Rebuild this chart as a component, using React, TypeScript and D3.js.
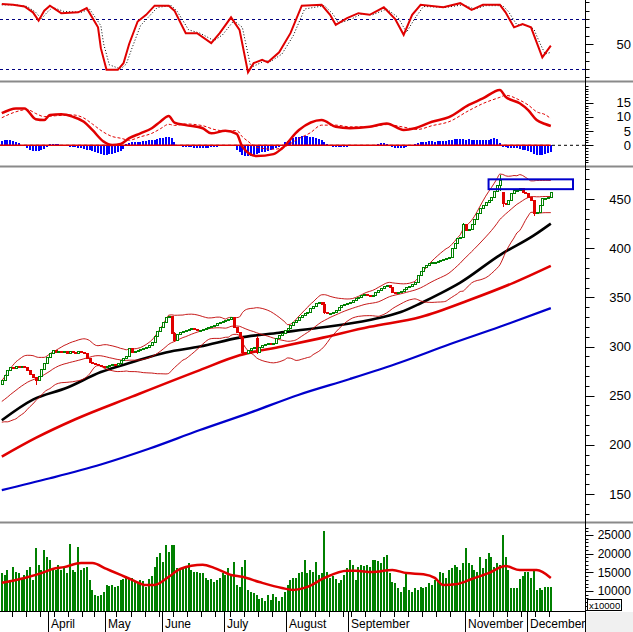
import React from 'react';
import * as d3 from 'd3';

const W = 633;
const H = 632;

// ---------- calendar ----------
const START_DATE = '2021-03-09';
const END_DATE = '2021-12-13';
const HOLIDAYS = ['2021-04-21', '2021-04-30', '2021-05-03', '2021-09-02', '2021-09-03'];
const MONTH_NAMES = ['January', 'February', 'March', 'April', 'May', 'June', 'July', 'August', 'September', 'October', 'November', 'December'];

// ---------- price data ----------
const priorCloses = [228, 231, 229, 233, 236, 234, 238, 241, 239, 243, 246, 244, 248, 251, 249, 254, 257, 255, 260];
const closes = [
  266, 271, 276, 279, 278, 280, 279, 280, 279, 276,
  272, 269, 266, 270, 277, 283, 289, 293, 296, 294,
  295, 294, 295, 293, 295, 294, 293, 295, 294, 293,
  288, 284, 283, 282, 281, 280, 279, 280, 281, 282,
  281, 283, 286, 288, 290, 298, 294, 295, 296, 297,
  298, 299, 302, 305, 311, 316, 320, 325, 330, 331,
  314, 307, 313, 315, 316, 317, 318, 319, 318, 317,
  317, 318, 319, 320, 321, 322, 324, 325, 326, 327,
  328, 330, 320, 315, 310, 294, 293, 296, 298, 300,
  294, 299, 302, 303, 304, 303, 304, 309, 312, 314,
  317, 319, 322, 325, 327, 330, 332, 334, 335, 339,
  341, 344, 345, 343, 335, 334, 334, 335, 337, 340,
  342, 343, 344, 345, 347, 349, 350, 352, 353, 352,
  351, 352, 355, 357, 359, 362, 363, 361, 355, 354,
  355, 356, 358, 361, 362, 364, 366, 373, 377, 381,
  383, 385, 386, 386, 387, 388, 389, 390, 391, 400,
  405, 410, 411, 425, 418, 419, 425, 430, 436, 441,
  444, 447, 449, 452, 458, 464, 469, 446, 445, 449,
  456, 459, 459, 461, 457, 456, 452, 449, 436, 437,
  444, 451, 451, 452, 457,
];
const openOverrides: [number, number][] = [[0, 262], [90, 309], [177, 457]];
const wickExtremes: [number, number, number][] = [
  [12, 268, 261], [61, 315, 305], [85, 311, 291], [90, 311, 292], [114, 345, 333],
  [163, 426, 410], [176, 474, 458], [177, 457, 442], [188, 449, 433],
];
const ma50: [number, number][] = [[0, 225], [11, 246], [23, 258], [35, 274], [46, 284], [58, 294], [70, 300], [84, 309], [98, 314], [112, 319], [130, 327], [141, 335], [148, 344], [155, 354], [162, 365], [176, 393], [188, 413], [194, 425]];
const ma100: [number, number][] = [[0, 188], [12, 207], [26, 226], [46, 249], [70, 276], [84, 291], [99, 300], [112, 308], [130, 320], [148, 330], [165, 347], [181, 365], [194, 382]];
const ma200: [number, number][] = [[0, 154], [17, 166], [35, 180], [52, 196], [70, 215], [88, 233], [105, 251], [123, 267], [141, 284], [158, 302], [176, 320], [194, 339]];
const resistanceZone = { from: 172, to: 202, low: 460, high: 470 };
const priceTicks = [150, 200, 250, 300, 350, 400, 450];

// ---------- volume ----------
const volumes = [
  14750, 14300, 15600, 13000, 16500, 15200, 14750, 13400, 14300, 15600,
  16500, 13000, 21500, 17000, 15600, 21000, 19200, 18300, 16100, 15600,
  17000, 15600, 16100, 14750, 22700, 15600, 15200, 21800, 15600, 16100,
  16500, 12900, 10300, 8900, 8700, 8900, 9800, 11700, 11400, 11700,
  11200, 11400, 13000, 13200, 13900, 13400, 13600, 12500, 12200, 13000,
  12800, 11200, 13200, 14100, 16500, 19000, 20100, 17900, 22300, 20500,
  22300, 22300, 16100, 15600, 15800, 16500, 17400, 15600, 15200, 15000,
  14750, 14900, 13400, 12900, 13100, 12500, 12900, 13400, 14750, 14300,
  16100, 13900, 17900, 11700, 11200, 16500, 18300, 10300, 9800, 9400,
  8900, 7800, 8000, 7200, 8900, 7600, 9200, 8500, 7200, 8500,
  9800, 11600, 12900, 13400, 13600, 14700, 15200, 18300, 14900, 15600,
  15200, 17900, 14300, 14700, 26200, 15200, 13400, 13900, 13100, 12200,
  13000, 14300, 16100, 18300, 17000, 13000, 16500, 17000, 16700, 17000,
  16500, 18300, 18300, 18100, 17400, 19200, 19700, 14750, 12500, 12100,
  10700, 9800, 11200, 14750, 10300, 9800, 10700, 10300, 11200, 10700,
  11200, 12100, 11700, 12900, 12500, 15200, 14700, 13400, 15600, 16100,
  17000, 16500, 15600, 17400, 21400, 17400, 17000, 15600, 15200, 19200,
  16100, 18700, 20100, 19200, 16500, 17400, 17000, 25000, 19200, 15600,
  10700, 10700, 10700, 13100, 13900, 15200, 15200, 13400, 15600, 10300,
  10700, 10300, 11200, 11200, 11000,
];
const volumeMA: [number, number][] = [[0, 12200], [8, 13500], [14, 14800], [18, 15900], [22, 16400], [28, 17500], [32, 17500], [37, 15900], [42, 14300], [46, 13000], [51, 11600], [54, 11600], [59, 13800], [63, 15900], [71, 17000], [75, 16200], [81, 14300], [85, 13800], [91, 12400], [99, 10800], [103, 10300], [108, 11100], [114, 13500], [122, 15400], [125, 15400], [131, 15100], [138, 15600], [143, 14800], [149, 14500], [153, 13500], [156, 11600], [161, 11900], [166, 13200], [172, 14800], [178, 16700], [183, 15600], [189, 15600], [194, 13500]];
const volumeTicks = [10000, 15000, 20000, 25000];

// ---------- stochastic ----------
const stochK: [number, number][] = [[0, 98], [4, 97], [8, 95], [11, 88], [13, 78], [15, 90], [17, 96], [21, 87], [27, 88], [30, 93], [34, 70], [35, 45], [37, 19], [41, 19], [43, 27], [45, 50], [48, 77], [51, 85], [54, 96], [59, 96], [61, 90], [65, 63], [69, 63], [74, 51], [77, 63], [81, 82], [84, 67], [85, 50], [87, 16], [89, 27], [92, 31], [94, 28], [98, 40], [102, 63], [106, 96], [113, 97], [116, 85], [118, 73], [122, 81], [126, 87], [130, 85], [135, 94], [139, 80], [142, 61], [145, 85], [148, 97], [156, 94], [162, 99], [166, 91], [170, 97], [176, 97], [178, 88], [181, 70], [184, 74], [187, 70], [189, 52], [191, 34], [194, 48]];
const stochD: [number, number][] = [[0, 97], [5, 97], [9, 95], [12, 88], [14, 80], [16, 88], [18, 94], [22, 89], [28, 88], [31, 92], [35, 72], [36, 50], [38, 25], [42, 20], [44, 26], [46, 45], [49, 72], [52, 83], [55, 94], [60, 96], [62, 89], [66, 67], [70, 63], [75, 54], [78, 61], [82, 78], [85, 70], [86, 54], [88, 22], [90, 25], [93, 30], [95, 29], [99, 38], [103, 60], [107, 92], [114, 96], [117, 86], [119, 75], [123, 79], [127, 86], [131, 85], [136, 92], [140, 82], [143, 64], [146, 81], [149, 95], [157, 94], [163, 97], [167, 92], [171, 96], [177, 96], [179, 89], [182, 73], [185, 73], [188, 68], [190, 52], [192, 38], [194, 40]];
const stochLevels = [20, 80];
const stochTicks = [50];

// ---------- MACD ----------
const macdLine: [number, number][] = [[0, 11.3], [5, 13.0], [8, 13.0], [12, 9.2], [15, 8.9], [17, 10.7], [21, 10.9], [25, 10.1], [29, 8.3], [32, 5.4], [36, 1.3], [39, 0.1], [42, 0.5], [45, 2.5], [49, 4.2], [53, 6.0], [56, 8.3], [59, 10.3], [61, 8.0], [65, 7.1], [71, 6.0], [74, 4.2], [79, 5.1], [83, 4.0], [85, -0.5], [90, -3.8], [96, -3.1], [99, -1.1], [105, 5.4], [113, 8.9], [118, 6.5], [123, 6.0], [130, 6.5], [136, 7.7], [142, 5.4], [146, 6.0], [152, 8.3], [158, 9.9], [165, 14.2], [170, 16.5], [176, 19.5], [178, 17.1], [183, 14.8], [186, 12.4], [189, 8.9], [192, 7.5], [194, 6.8]];
const macdSignal: [number, number][] = [[0, 9.7], [5, 11.8], [9, 12.6], [12, 11.2], [15, 10.1], [19, 10.4], [25, 10.7], [29, 9.6], [32, 7.5], [36, 4.6], [39, 3.1], [42, 2.5], [45, 1.8], [49, 3.0], [53, 4.2], [56, 5.8], [59, 7.4], [61, 7.0], [65, 7.5], [71, 6.9], [75, 5.6], [80, 5.0], [83, 5.2], [85, 3.0], [87, 1.4], [90, -0.7], [96, -1.4], [99, -0.9], [105, 2.4], [109, 4.4], [113, 7.1], [118, 7.1], [123, 6.5], [130, 6.5], [136, 7.3], [142, 6.4], [147, 5.6], [152, 6.9], [158, 8.3], [165, 12.2], [170, 14.7], [176, 16.9], [178, 17.6], [183, 15.9], [186, 14.2], [189, 11.8], [192, 10.8], [194, 9.4]];
const macdHist = [
  1.6, 2.0, 2.0, 1.9, 1.6, 1.2, 0.8,
  0.2, -0.3,
  -0.9, -1.5, -2.0, -2.1, -2.0, -1.7, -1.2, -0.6,
  0.3, 0.5, 0.5, 0.4, 0.2,
  -0.3, -0.4, -0.5, -0.6, -0.7, -0.9, -1.1, -1.3, -1.5, -1.8, -2.1,
  -2.4, -2.7, -3.0, -3.3, -3.3, -3.2, -3.0, -2.8, -2.5, -2.0, -1.4,
  0.6, 0.8, 1.0, 1.1, 1.2, 1.3, 1.4, 1.5, 1.7, 1.8, 2.0, 2.2, 2.5, 2.7, 2.9, 2.9, 2.5, 1.0,
  -0.3, -0.4, -0.5, -0.6, -0.6, -0.7, -0.8, -0.8, -0.8, -0.9, -0.9, -0.8, -0.7, -0.6, -0.5, -0.4, -0.3, -0.2,
  0.1, 0.0, -0.3,
  -1.5, -2.5, -3.5, -3.9, -3.9, -3.7, -3.4, -3.1, -2.8, -2.5, -2.2, -2.0, -1.7, -1.4, -1.0, -0.6, -0.2,
  1.0, 1.5, 2.0, 2.4, 2.8, 3.0, 3.1, 3.2, 3.1, 3.0, 2.8, 2.6, 2.2, 1.8, 1.2, 0.5,
  -0.4, -0.5, -0.6, -0.7, -0.7, -0.6, -0.5, -0.4, -0.3, -0.2,
  0.1, 0.0, -0.1, 0.1, 0.0, 0.1, 0.2,
  0.5, 0.8, 0.7, 0.4,
  -0.3, -0.6, -0.9, -1.0, -1.0, -0.9, -0.7, -0.4, -0.1,
  0.4, 0.7, 1.0, 1.1, 1.3, 1.4, 1.4, 1.3, 1.4, 1.5, 1.4, 1.6, 1.8, 2.0, 2.1, 2.2, 2.2, 2.1, 2.0, 2.1, 2.0, 1.9, 1.8, 1.8, 1.7, 1.8, 1.9, 2.2, 2.6, 2.3, 0.8,
  -0.5, -0.7, -0.8, -0.9, -1.0, -1.1, -1.3, -1.5, -1.8, -2.1, -2.5, -2.9, -3.3, -3.4, -3.3, -3.0, -2.7, -2.2,
];
const macdTicks = [0, 5, 10, 15];

// ---------- styling ----------
const FONT = 'Liberation Sans, Arial, sans-serif';
const RED = '#e00000';
const GREEN = '#008000';
const BLUE = '#0000cc';
const AXIS_X = 585.5;
const LABEL_X = 631;

function tradingDays(): Date[] {
  const out: Date[] = [];
  const hol = new Set(HOLIDAYS);
  const d = new Date(START_DATE + 'T00:00:00Z');
  const end = new Date(END_DATE + 'T00:00:00Z');
  while (d <= end) {
    const wd = d.getUTCDay();
    const iso = d.toISOString().slice(0, 10);
    if (wd !== 0 && wd !== 6 && !hol.has(iso)) out.push(new Date(d.getTime()));
    d.setUTCDate(d.getUTCDate() + 1);
  }
  return out;
}

function weekKey(d: Date) {
  return d.getTime() - ((d.getUTCDay() + 6) % 7) * 86400000;
}

export default function App() {
  const days = tradingDays();
  const N = closes.length;
  const STEP = 2.83;
  const X0 = 1.8;
  const x = d3.scaleLinear().domain([0, N - 1]).range([X0, X0 + (N - 1) * STEP]);

  const yStoch = d3.scaleLinear().domain([20, 80]).range([69, 19]);
  const yMacd = d3.scaleLinear().domain([0, 15]).range([145.3, 102.7]);
  const yPrice = d3.scaleLinear().domain([150, 450]).range([494, 199]);
  const yVol = d3.scaleLinear().domain([10000, 25000]).range([591, 535]);
  const VOL_BASE = 611;

  const panels = {
    stoch: [0, 80],
    macd: [83, 165],
    price: [168, 521],
    vol: [524, 611],
  } as const;

  const opens = closes.map((c, i) => {
    const o = openOverrides.find((g) => g[0] === i);
    if (o) return o[1];
    return i === 0 ? c : closes[i - 1];
  });
  const candles = closes.map((c, i) => {
    const o = opens[i];
    const w = wickExtremes.find((e) => e[0] === i);
    const hi = w ? w[1] : Math.max(o, c);
    const lo = w ? w[2] : Math.min(o, c);
    return { i, o, c, hi, lo, up: c >= o };
  });

  // Bollinger (20, 2) from closes
  const all = [...priorCloses, ...closes];
  const P = priorCloses.length;
  const bb = closes.map((_, i) => {
    const win = all.slice(i + P - 19, i + P + 1);
    const m = d3.mean(win) as number;
    const sd = Math.sqrt(d3.mean(win.map((v) => (v - m) * (v - m))) as number);
    return { i, mid: m, up: m + 2 * sd, lo: m - 2 * sd };
  });

  const sparse = (ys: d3.ScaleLinear<number, number>, curve = d3.curveMonotoneX) =>
    d3.line<[number, number]>().x((d) => x(d[0])).y((d) => ys(d[1])).curve(curve);
  const bbLine = (k: 'mid' | 'up' | 'lo') =>
    d3.line<{ i: number; mid: number; up: number; lo: number }>().x((d) => x(d.i)).y((d) => yPrice(d[k])).curve(d3.curveMonotoneX)(bb) as string;

  // x-axis ticks
  const monthMarks: { x: number; label: string }[] = [];
  const weekMarks: number[] = [];
  for (let i = 1; i < days.length && i < N; i++) {
    const bx = x(i) - STEP / 2;
    if (days[i].getUTCMonth() !== days[i - 1].getUTCMonth()) {
      monthMarks.push({ x: bx, label: MONTH_NAMES[days[i].getUTCMonth()] });
    } else if (weekKey(days[i]) !== weekKey(days[i - 1])) {
      weekMarks.push(bx);
    }
  }
  const shownMonths: { x: number; label: string }[] = [];
  let lastEnd = -Infinity;
  monthMarks.forEach((m) => {
    const w = m.label.length * 6.6;
    if (m.x + 2 > lastEnd + 2) {
      shownMonths.push(m);
      lastEnd = m.x + 2 + w;
    }
  });

  const minorTicks = (scale: d3.ScaleLinear<number, number>, from: number, to: number, step: number, range: readonly [number, number]) =>
    d3.range(from, to + step / 2, step).map((v) => scale(v)).filter((yy) => yy >= range[0] + 1 && yy <= range[1] - 1);

  const crisp = { shapeRendering: 'crispEdges' as const };

  return (
    <svg width={W} height={H} style={{ position: 'absolute', left: 0, top: 0, background: '#fff' }} fontFamily={FONT}>
      <defs>
        {Object.entries(panels).map(([k, r]) => (
          <clipPath id={`clip-${k}`} key={k}>
            <rect x={0} y={r[0]} width={AXIS_X} height={r[1] - r[0]} />
          </clipPath>
        ))}
      </defs>
      <rect x={0} y={0} width={W} height={H} fill="#fff" />
      <rect x={586} y={612} width={W - 586} height={H - 612} fill="#f0f0f0" />

      {[81.5, 166.5, 522.5].map((yy) => (
        <line key={yy} x1={0} x2={W} y1={yy} y2={yy} stroke="#8a8a8a" strokeWidth={2} />
      ))}

      {/* ===== Stochastic ===== */}
      <g clipPath="url(#clip-stoch)">
        {stochLevels.map((lv) => (
          <line key={lv} x1={0} x2={AXIS_X} y1={Math.round(yStoch(lv)) + 0.5} y2={Math.round(yStoch(lv)) + 0.5} stroke="#000080" strokeDasharray="3,3" />
        ))}
        <path d={sparse(yStoch, d3.curveLinear)(stochD) as string} fill="none" stroke="#000" strokeWidth={1} strokeDasharray="1,2" />
        <path d={sparse(yStoch, d3.curveLinear)(stochK) as string} fill="none" stroke={RED} strokeWidth={2} />
      </g>

      {/* ===== MACD ===== */}
      <g clipPath="url(#clip-macd)">
        <line x1={0} x2={AXIS_X} y1={yMacd(0)} y2={yMacd(0)} stroke="#000" strokeDasharray="3,3" />
        {macdHist.map((h, i) => {
          const y0 = yMacd(0);
          const y1 = yMacd(h);
          return (
            <rect key={i} x={Math.round(x(i)) - 1} y={Math.min(y0, y1)} width={2} height={Math.max(0.5, Math.abs(y1 - y0))} fill="#0000ff" {...crisp} />
          );
        })}
        <line x1={0} x2={x(N - 1)} y1={yMacd(0)} y2={yMacd(0)} stroke={RED} strokeWidth={1.5} />
        <path d={sparse(yMacd)(macdSignal) as string} fill="none" stroke={RED} strokeWidth={1} strokeDasharray="3,2" />
        <path d={sparse(yMacd)(macdLine) as string} fill="none" stroke={RED} strokeWidth={2.5} />
      </g>

      {/* ===== Price ===== */}
      <g clipPath="url(#clip-price)">
        <path d={sparse(yPrice)(ma200) as string} fill="none" stroke={BLUE} strokeWidth={2.2} />
        <path d={sparse(yPrice)(ma100) as string} fill="none" stroke={RED} strokeWidth={2.6} />
        <path d={sparse(yPrice)(ma50) as string} fill="none" stroke="#000" strokeWidth={2.6} />
        <path d={bbLine('up')} fill="none" stroke="#c00000" strokeWidth={0.9} />
        <path d={bbLine('mid')} fill="none" stroke="#c00000" strokeWidth={0.9} />
        <path d={bbLine('lo')} fill="none" stroke="#c00000" strokeWidth={0.9} />
        {candles.map((c) => {
          const left = Math.round(x(c.i)) - 1;
          const top = Math.round(yPrice(Math.max(c.o, c.c)));
          const bot = Math.round(yPrice(Math.min(c.o, c.c)));
          const col = c.up ? GREEN : RED;
          return (
            <g key={c.i} {...crisp}>
              <line x1={left + 1.5} x2={left + 1.5} y1={yPrice(c.hi)} y2={yPrice(c.lo)} stroke={col} strokeWidth={1} />
              {c.up ? (
                <rect x={left + 0.5} y={top + 0.5} width={2} height={Math.max(1, bot - top)} fill="#fff" stroke={col} strokeWidth={1} />
              ) : (
                <rect x={left} y={top} width={3} height={Math.max(1, bot - top + 1)} fill={col} />
              )}
            </g>
          );
        })}
        <rect
          x={x(resistanceZone.from)}
          y={yPrice(resistanceZone.high)}
          width={Math.min(x(resistanceZone.to), 573) - x(resistanceZone.from)}
          height={yPrice(resistanceZone.low) - yPrice(resistanceZone.high)}
          fill="none"
          stroke={BLUE}
          strokeWidth={2}
        />
      </g>

      {/* ===== Volume ===== */}
      <g clipPath="url(#clip-vol)">
        {volumes.map((v, i) => (
          <rect key={i} x={Math.round(x(i)) - 1} y={yVol(v)} width={2} height={VOL_BASE - yVol(v)} fill={GREEN} {...crisp} />
        ))}
        <path d={sparse(yVol)(volumeMA) as string} fill="none" stroke={RED} strokeWidth={2.5} />
      </g>

      {/* ===== right axis ===== */}
      <line x1={AXIS_X} x2={AXIS_X} y1={0} y2={632} stroke="#000" />
      {minorTicks(yStoch, 0, 100, 10, panels.stoch).map((yy, k) => (
        <line key={'st' + k} x1={AXIS_X} x2={AXIS_X + 4} y1={Math.round(yy) + 0.5} y2={Math.round(yy) + 0.5} stroke="#000" />
      ))}
      {stochTicks.map((t) => (
        <g key={'stt' + t}>
          <line x1={AXIS_X} x2={AXIS_X + 8} y1={Math.round(yStoch(t)) + 0.5} y2={Math.round(yStoch(t)) + 0.5} stroke="#000" />
          <text x={LABEL_X} y={yStoch(t)} dy="0.35em" textAnchor="end" fontSize={13}>{t}</text>
        </g>
      ))}
      {minorTicks(yMacd, -8, 22, 1, panels.macd).map((yy, k) => (
        <line key={'mt' + k} x1={AXIS_X} x2={AXIS_X + 3} y1={Math.round(yy) + 0.5} y2={Math.round(yy) + 0.5} stroke="#000" />
      ))}
      {macdTicks.map((t) => (
        <g key={'mtt' + t}>
          <line x1={AXIS_X} x2={AXIS_X + 8} y1={Math.round(yMacd(t)) + 0.5} y2={Math.round(yMacd(t)) + 0.5} stroke="#000" />
          <text x={LABEL_X} y={yMacd(t)} dy="0.35em" textAnchor="end" fontSize={13}>{t}</text>
        </g>
      ))}
      {minorTicks(yPrice, 120, 490, 10, panels.price).map((yy, k) => (
        <line key={'pt' + k} x1={AXIS_X} x2={AXIS_X + 4} y1={Math.round(yy) + 0.5} y2={Math.round(yy) + 0.5} stroke="#000" />
      ))}
      {priceTicks.map((t) => (
        <g key={'ptt' + t}>
          <line x1={AXIS_X} x2={AXIS_X + 9} y1={Math.round(yPrice(t)) + 0.5} y2={Math.round(yPrice(t)) + 0.5} stroke="#000" />
          <text x={LABEL_X} y={yPrice(t)} dy="0.35em" textAnchor="end" fontSize={13}>{t}</text>
        </g>
      ))}
      {minorTicks(yVol, 4000, 29000, 1000, panels.vol).map((yy, k) => (
        <line key={'vt' + k} x1={AXIS_X} x2={AXIS_X + 3} y1={Math.round(yy) + 0.5} y2={Math.round(yy) + 0.5} stroke="#000" />
      ))}
      {volumeTicks.map((t) => (
        <g key={'vtt' + t}>
          <line x1={AXIS_X} x2={AXIS_X + 8} y1={Math.round(yVol(t)) + 0.5} y2={Math.round(yVol(t)) + 0.5} stroke="#000" />
          <text x={LABEL_X} y={yVol(t)} dy="0.35em" textAnchor="end" fontSize={12}>{t}</text>
        </g>
      ))}
      <rect x={587.5} y={599.5} width={34} height={11} fill="#fff" stroke="#000" strokeWidth={1} />
      <text x={589} y={609} fontSize={9.5}>x10000</text>

      {/* ===== x axis ===== */}
      <line x1={0} x2={AXIS_X} y1={611.5} y2={611.5} stroke="#000" />
      {weekMarks.map((bx, k) => (
        <line key={'w' + k} x1={Math.round(bx) + 0.5} x2={Math.round(bx) + 0.5} y1={612} y2={617} stroke="#000" />
      ))}
      {shownMonths.map((m) => (
        <g key={m.label}>
          <line x1={Math.round(m.x) + 0.5} x2={Math.round(m.x) + 0.5} y1={612} y2={632} stroke="#000" />
          <text x={Math.round(m.x) + 3} y={628} fontSize={12}>{m.label}</text>
        </g>
      ))}
    </svg>
  );
}
